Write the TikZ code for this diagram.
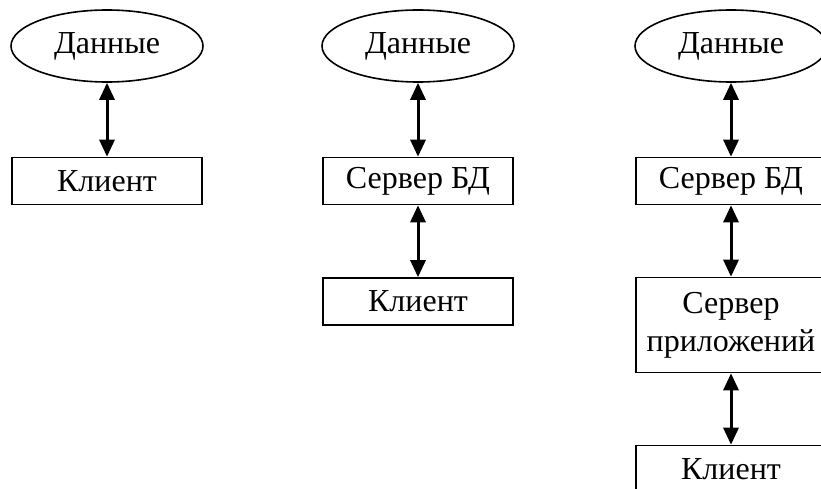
\documentclass[tikz,border=0pt]{standalone}
\usepackage{fontspec}
\setmainfont{Liberation Serif}
\usetikzlibrary{arrows.meta, positioning, shapes.geometric}
\tikzset{
    data/.style={draw, ellipse, line width=1.6pt, minimum width=192pt, minimum height=72pt, inner sep=0pt},
    block/.style={draw, rectangle, line width=1.6pt, minimum width=190pt, minimum height=47pt, inner sep=0pt, align=center},
    link/.style={{Triangle[length=17pt,width=15pt]}-{Triangle[length=17pt,width=15pt]}, line width=3pt}
}

\begin{document}
\begin{tikzpicture}[x=1pt, y=-1pt, font=\fontsize{32}{38}\selectfont]
    \useasboundingbox (0,0) rectangle (821,489);
    \node[data] (data1) at (107,46) {Данные};
    \node[block] (client1) at (107,181) {Клиент};
    \draw[link] (data1) -- (client1);

    \node[data] (data2) at (418,46) {Данные};
    \node[block] (dbs2) at (418,181) {Сервер БД};
    \node[block] (client2) at (418,301.5) {Клиент};
    \draw[link] (data2) -- (dbs2);
    \draw[link] (dbs2) -- (client2);

    \node[data] (data3) at (731,46) {Данные};
    \node[block] (dbs3) at (731,181) {Сервер БД};
    \node[block, minimum height=95pt] (app3) at (731,325) {Сервер\\приложений};
    \node[block] (client3) at (731,469) {Клиент};
    \draw[link] (data3) -- (dbs3);
    \draw[link] (dbs3) -- (app3);
    \draw[link] (app3) -- (client3);
\end{tikzpicture}
\end{document}
